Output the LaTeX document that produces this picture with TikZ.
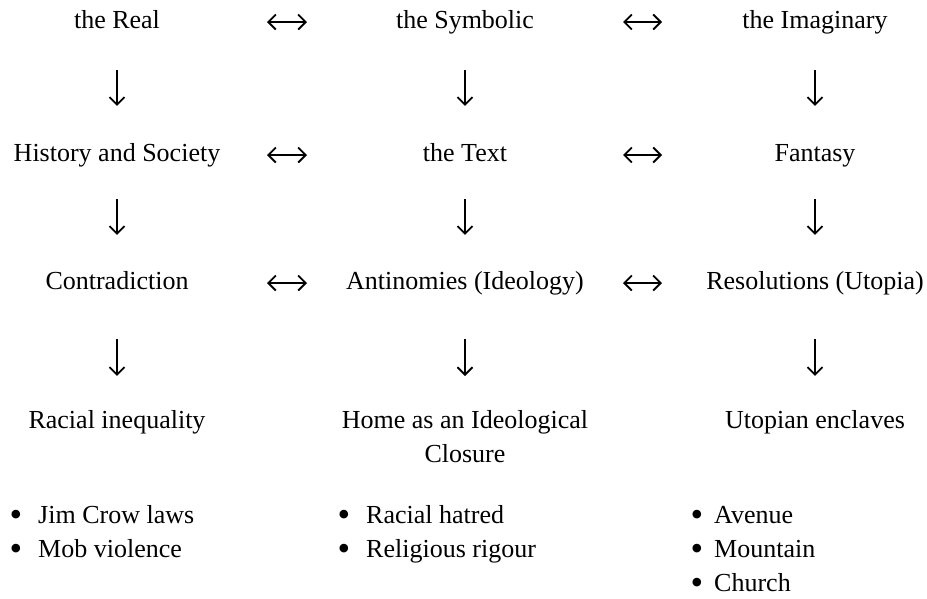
\documentclass[tikz,border=0pt]{standalone}
\usepackage{fontspec}
\setmainfont{Liberation Serif}
\usetikzlibrary{arrows.meta}
\begin{document}
\begin{tikzpicture}[x=1pt,y=-1pt,
  lbl/.style={inner sep=0pt, anchor=base, text height=18pt, text depth=6pt,
              font=\fontsize{26}{34}\selectfont},
  bul/.style={inner sep=0pt, anchor=base, font=\fontsize{36}{34}\selectfont},
  itm/.style={inner sep=0pt, anchor=base west, font=\fontsize{26}{34}\selectfont},
  tipx/.tip={Straight Barb[length=7.5pt,width=15pt,line width=1.8pt]},
  harr/.style={line width=1.8pt, tipx-tipx},
  varr/.style={line width=1.8pt, -tipx}]
\useasboundingbox (0,0) rectangle (927,598);
\fill[white] (0,0) rectangle (927,598);
% row 1
\node[lbl] (real) at (117,28) {the Real};
\node[lbl] (symb) at (465,28) {the Symbolic};
\node[lbl] (imag) at (815,28) {the Imaginary};
% row 2
\node[lbl] (hist) at (117,161) {History and Society};
\node[lbl] (text) at (465,161) {the Text};
\node[lbl] (fant) at (815,161) {Fantasy};
% row 3
\node[lbl] (contr) at (117,289) {Contradiction};
\node[lbl] (anti) at (465,289) {Antinomies (Ideology)};
\node[lbl] (reso) at (815,289) {Resolutions (Utopia)};
% row 4
\node[lbl] (racial) at (117,428) {Racial inequality};
\node[lbl, text height=, text depth=] (home) at (465,428)
  {\begin{tabular}[t]{@{}c@{}}Home as an Ideological\\[0pt]Closure\end{tabular}};
\node[lbl] (utop) at (815,428) {Utopian enclaves};
% bullets
\node[bul] (b11) at (16,523) {\raisebox{-3.5pt}{•}};
\node[itm] (i11) at (38,523) {Jim Crow laws};
\node[bul] (b12) at (16,557) {\raisebox{-3.5pt}{•}};
\node[itm] (i12) at (38,557) {Mob violence};
\node[bul] (b21) at (344,523) {\raisebox{-3.5pt}{•}};
\node[itm] (i21) at (366,523) {Racial hatred};
\node[bul] (b22) at (344,557) {\raisebox{-3.5pt}{•}};
\node[itm] (i22) at (366,557) {Religious rigour};
\node[bul] (b31) at (697,523) {\raisebox{-3.5pt}{•}};
\node[itm] (i31) at (714,523) {Avenue};
\node[bul] (b32) at (697,557) {\raisebox{-3.5pt}{•}};
\node[itm] (i32) at (714,557) {Mountain};
\node[bul] (b33) at (697,591) {\raisebox{-3.5pt}{•}};
\node[itm] (i33) at (714,591) {Church};
% horizontal arrows
\foreach \a/\b in {real/symb, hist/text, contr/anti}
  \draw[harr, shorten <=150pt, shorten >=158pt] (\a.center) -- (\b.center);
\foreach \a/\b in {symb/imag, text/fant, anti/reso}
  \draw[harr, shorten <=158pt, shorten >=153pt] (\a.center) -- (\b.center);
% vertical arrows
\foreach \a/\b in {real/hist, symb/text, imag/fant}
  \draw[varr, shorten <=36pt, shorten >=37pt] (\a.south) -- (\b.north);
\foreach \a/\b in {hist/contr, text/anti, fant/reso}
  \draw[varr, shorten <=32pt, shorten >=36pt] (\a.south) -- (\b.north);
\foreach \a/\b in {contr/racial, reso/utop}
  \draw[varr, shorten <=44pt, shorten >=34pt] (\a.south) -- (\b.north);
\draw[varr, shorten <=44pt, shorten >=28pt] (anti.south) -- (home.north);
\end{tikzpicture}
\end{document}
